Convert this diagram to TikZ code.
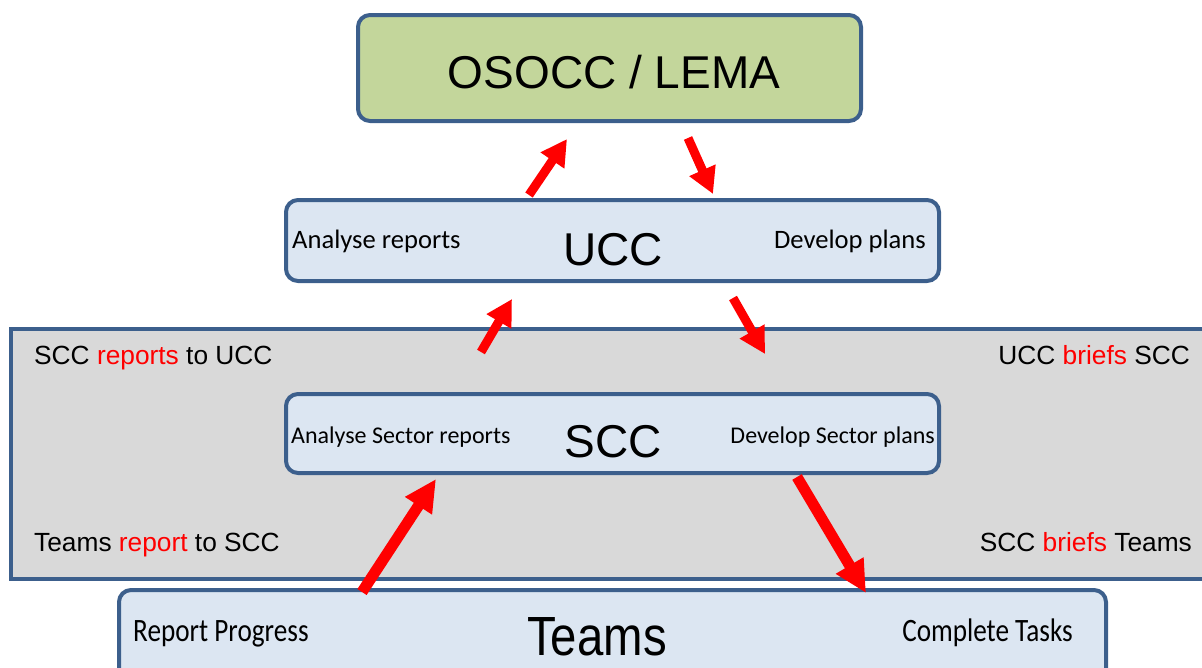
\documentclass[tikz,border=0pt]{standalone}
\usepackage{fontspec}
\setmainfont{Liberation Sans}
\newfontfamily\calfont{Carlito}
\usetikzlibrary{arrows.meta,calc}
\definecolor{bord}{RGB}{60,95,140}
\definecolor{lblue}{RGB}{220,230,242}
\definecolor{lgreen}{RGB}{195,214,155}
\definecolor{lgrey}{RGB}{217,217,217}
\begin{document}
\begin{tikzpicture}[x=1pt,y=-1pt,
  box/.style={draw=bord, line width=4pt, rounded corners=12pt, fill=lblue, inner sep=0pt},
  big/.style={font=\fontsize{46}{50}\selectfont, inner sep=0pt},
  lab/.style={font=\calfont\fontsize{26.6}{30}\selectfont, inner sep=0pt},
  tlab/.style={font=\calfont\fontsize{27.2}{30}\selectfont, inner sep=0pt},
  slab/.style={font=\calfont\fontsize{24}{28}\selectfont, inner sep=0pt},
  glab/.style={font=\fontsize{26.3}{30}\selectfont, inner sep=0pt},
  redarrow/.style={draw=red, line width=9pt, -{Triangle[width=27pt,length=26pt]}},
  bigarrow/.style={draw=red, line width=11pt, -{Triangle[width=30pt,length=32pt]}}]
\clip (0,0) rectangle (1202,667);
% boxes
\node[box, fill=lgrey, rounded corners=0pt, minimum width=1210pt, minimum height=250pt] (grey) at (616,454) {};
\node[box, fill=lgreen, minimum width=503pt, minimum height=106pt] (osocc) at (609.5,68) {};
\node[box, minimum width=653pt, minimum height=81pt] (ucc) at (612.5,240.5) {};
\node[box, minimum width=653pt, minimum height=79pt] (scc) at (612.5,433.5) {};
\node[box, minimum width=987pt, minimum height=100pt] (teams) at (612.5,640) {};
% texts
\node[big, anchor=base] (osocct) at (614,88) {OSOCC / LEMA};
\node[big, anchor=base] (ucct) at (613,265) {UCC};
\node[lab, anchor=base west] (ucca) at (292,248) {Analyse reports};
\node[lab, anchor=base east] (uccd) at (926,248) {Develop plans};
\node[big, anchor=base] (scct) at (613,457) {SCC};
\node[slab, anchor=base west] (scca) at (291,443) {Analyse Sector reports};
\node[slab, anchor=base east] (sccd) at (935,443) {Develop Sector plans};
\node[glab, anchor=base west] (g1) at (34,364) {SCC \textcolor{red}{reports} to UCC};
\node[glab, anchor=base east] (g2) at (1190,364) {UCC \textcolor{red}{briefs} SCC};
\node[glab, anchor=base west] (g3) at (34,551) {Teams \textcolor{red}{report} to SCC};
\node[glab, anchor=base east] (g4) at (1192,551) {SCC \textcolor{red}{briefs} Teams};
\node[big, anchor=base] (teamst) at (597,655) {\scalebox{1.03}[1.2]{Teams}};
\node[tlab, anchor=base west] (teamsr) at (133,641) {\scalebox{1}[1.2]{Report Progress}};
\node[tlab, anchor=base east] (teamsc) at (1073,641) {\scalebox{1}[1.2]{Complete Tasks}};
% arrows
\draw[redarrow] ($(ucc.north)+(-83.5,-3)$) -- ($(osocc.south)+(-42.5,16)$);
\draw[redarrow] ($(osocc.south)+(78.5,15)$) -- ($(ucc.north)+(100.5,-4)$);
\draw[redarrow] ($(scc.north)+(-131.5,-40)$) -- ($(ucc.south)+(-100.5,16)$);
\draw[redarrow] ($(ucc.south)+(120.5,15)$) -- ($(scc.north)+(152.5,-38)$);
\draw[bigarrow] ($(teams.north)+(-250.5,4)$) -- ($(scc.south)+(-176.5,4)$);
\draw[bigarrow] ($(scc.south)+(184.5,2)$) -- ($(teams.north)+(253.5,5)$);
\end{tikzpicture}
\end{document}
